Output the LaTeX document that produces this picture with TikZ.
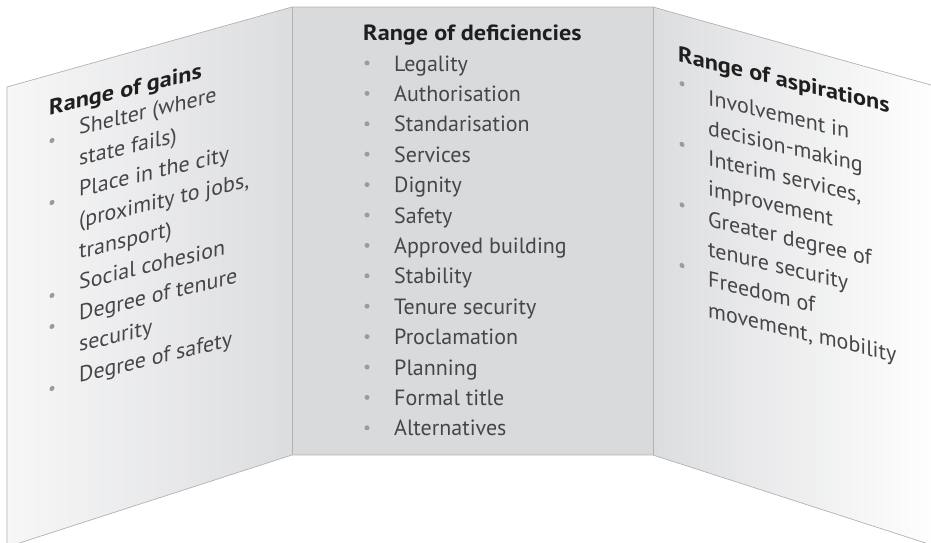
\documentclass[tikz,border=0pt]{standalone}
\usepackage{fontspec}
\setmainfont{PT Sans}[BoldFeatures={FakeStretch=1.1}]

\definecolor{panel}{RGB}{217,218,220}
\definecolor{panellight}{RGB}{247,247,248}
\definecolor{paneldark}{RGB}{220,221,223}
\definecolor{edge}{RGB}{178,178,180}
\definecolor{ink}{RGB}{70,70,72}
\definecolor{dotgray}{RGB}{155,155,157}

\begin{document}
\begin{tikzpicture}[x=1pt, y=-1pt,
  head/.style={anchor=base west, inner sep=0pt, font=\fontsize{22}{26}\selectfont\bfseries, text=black!88},
  entry/.style={anchor=base west, inner sep=0pt, font=\fontsize{22}{26}\selectfont, text=ink},
  bul/.style={fill=dotgray},
  fold/.style={draw=edge, line width=0.7pt}]

\useasboundingbox (0,0) rectangle (931,543);

% the three panels of the folder
\shade[left color=panellight, right color=paneldark] (7,87) -- (292,7) -- (292,455) -- (7,547) -- cycle;
\fill[panel] (292,7) rectangle (653,455);
\shade[left color=paneldark, right color=white] (653,7) -- (938,87) -- (938,547) -- (653,455) -- cycle;
\draw[fold] (7,547) -- (7,87) -- (292,7) -- (653,7) -- (938,87);
\draw[fold] (7,547) -- (292,455) -- (653,455) -- (938,547);
\draw[fold] (292,7) -- (292,455);
\draw[fold] (653,7) -- (653,455);

% middle panel
\node[head]  (def)    at (363,41)    {Range of deficiencies};
\node[entry] (def_1)  at (394,71)    {Legality};
\node[entry] (def_2)  at (394,101.4) {Authorisation};
\node[entry] (def_3)  at (394,131.8) {Standarisation};
\node[entry] (def_4)  at (394,162.2) {Services};
\node[entry] (def_5)  at (394,192.6) {Dignity};
\node[entry] (def_6)  at (394,223)   {Safety};
\node[entry] (def_7)  at (394,253.4) {Approved building};
\node[entry] (def_8)  at (394,283.8) {Stability};
\node[entry] (def_9)  at (394,314.2) {Tenure security};
\node[entry] (def_10) at (394,344.6) {Proclamation};
\node[entry] (def_11) at (394,375)   {Planning};
\node[entry] (def_12) at (394,405.4) {Formal title};
\node[entry] (def_13) at (394,435.8) {Alternatives};
\fill[bul] (367,63)    circle (2.5);
\fill[bul] (367,93.4)  circle (2.5);
\fill[bul] (367,123.8) circle (2.5);
\fill[bul] (367,154.2) circle (2.5);
\fill[bul] (367,184.6) circle (2.5);
\fill[bul] (367,215)   circle (2.5);
\fill[bul] (367,245.4) circle (2.5);
\fill[bul] (367,275.8) circle (2.5);
\fill[bul] (367,306.2) circle (2.5);
\fill[bul] (367,336.6) circle (2.5);
\fill[bul] (367,367)   circle (2.5);
\fill[bul] (367,397.4) circle (2.5);
\fill[bul] (367,427.8) circle (2.5);

% left panel, text follows the slope
\begin{scope}[shift={(79,135)}, yslant=0.24]
\node[head, transform shape]  (gain)   at (-30,-27) {Range of gains};
\node[entry, transform shape] (gain_1) at (0,0)     {Shelter (where};
\node[entry, transform shape] (gain_2) at (0,31)    {state fails)};
\node[entry, transform shape] (gain_3) at (0,62)    {Place in the city};
\node[entry, transform shape] (gain_4) at (0,93)    {(proximity to jobs,};
\node[entry, transform shape] (gain_5) at (0,124)   {transport)};
\node[entry, transform shape] (gain_6) at (0,155)   {Social cohesion};
\node[entry, transform shape] (gain_7) at (0,186)   {Degree of tenure};
\node[entry, transform shape] (gain_8) at (0,217)   {security};
\node[entry, transform shape] (gain_9) at (0,248)   {Degree of safety};
\fill[bul] (-27,-1)  circle (2.5);
\fill[bul] (-27,61)  circle (2.5);
\fill[bul] (-27,154) circle (2.5);
\fill[bul] (-27,185) circle (2.5);
\fill[bul] (-27,247) circle (2.5);
\end{scope}

% right panel, sloping down
\begin{scope}[shift={(708,105)}, yslant=-0.24]
\node[head, transform shape]  (asp)   at (-30,-36)  {Range of aspirations};
\node[entry, transform shape] (asp_1) at (0,0)      {Involvement in};
\node[entry, transform shape] (asp_2) at (0,30.3)   {decision-making};
\node[entry, transform shape] (asp_3) at (0,60.6)   {Interim services,};
\node[entry, transform shape] (asp_4) at (0,90.9)   {improvement};
\node[entry, transform shape] (asp_5) at (0,121.2)  {Greater degree of};
\node[entry, transform shape] (asp_6) at (0,151.5)  {tenure security};
\node[entry, transform shape] (asp_7) at (0,181.8)  {Freedom of};
\node[entry, transform shape] (asp_8) at (0,212.1)  {movement, mobility};
\fill[bul] (-26,-15)   circle (2.5);
\fill[bul] (-26,45.6)  circle (2.5);
\fill[bul] (-26,106.2) circle (2.5);
\fill[bul] (-26,166.8) circle (2.5);
\end{scope}
\end{tikzpicture}
\end{document}
